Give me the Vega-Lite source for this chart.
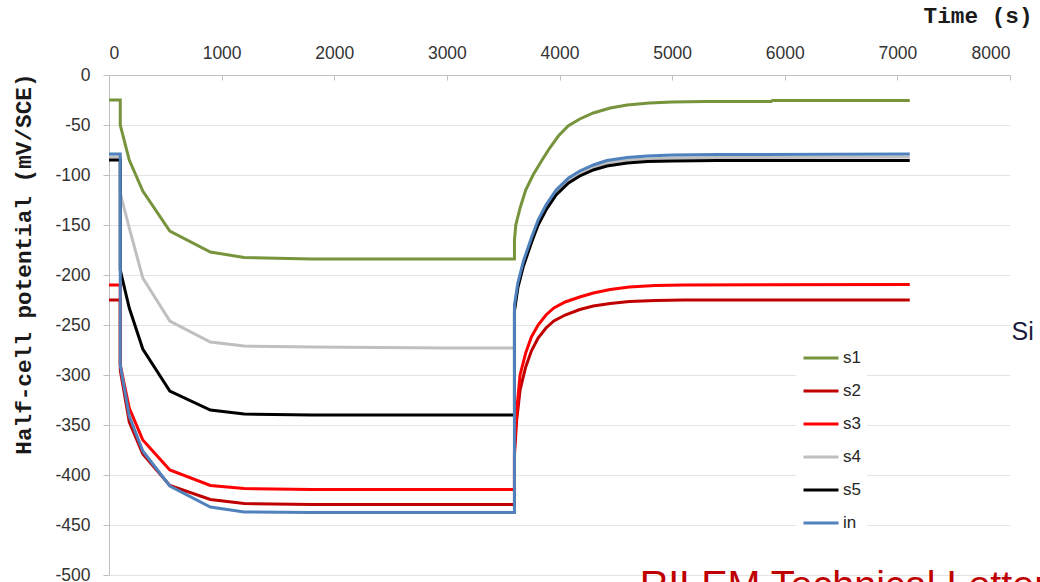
{
  "$schema": "https://vega.github.io/schema/vega-lite/v6.json",
  "width": 901,
  "height": 500,
  "autosize": {"type": "none"},
  "padding": {"left": 109, "top": 75, "right": 30, "bottom": 7},
  "background": "white",
  "config": {
    "view": {"stroke": null},
    "axis": {
      "labelFont": "Liberation Sans",
      "labelFontSize": 17.5,
      "labelColor": "#333333",
      "domainColor": "#BFBFBF",
      "tickColor": "#BFBFBF",
      "titleFont": "Liberation Mono",
      "titleFontWeight": "bold",
      "titleFontSize": 22.7,
      "titleColor": "#1a1a1a"
    }
  },
  "layer": [
    {
      "data": {
        "values": [
          {"s": "s1", "t": 0, "v": -25}, {"s": "s1", "t": 100, "v": -25}, {"s": "s1", "t": 100, "v": -50},
          {"s": "s1", "t": 180, "v": -85}, {"s": "s1", "t": 300, "v": -116}, {"s": "s1", "t": 540, "v": -156},
          {"s": "s1", "t": 900, "v": -177}, {"s": "s1", "t": 1200, "v": -182.5}, {"s": "s1", "t": 1800, "v": -184},
          {"s": "s1", "t": 3600, "v": -184}, {"s": "s1", "t": 3600, "v": -165}, {"s": "s1", "t": 3612, "v": -150},
          {"s": "s1", "t": 3650, "v": -133}, {"s": "s1", "t": 3700, "v": -115}, {"s": "s1", "t": 3765, "v": -100},
          {"s": "s1", "t": 3840, "v": -86}, {"s": "s1", "t": 3913, "v": -73}, {"s": "s1", "t": 3990, "v": -61},
          {"s": "s1", "t": 4076, "v": -51}, {"s": "s1", "t": 4180, "v": -44}, {"s": "s1", "t": 4300, "v": -38},
          {"s": "s1", "t": 4450, "v": -33}, {"s": "s1", "t": 4600, "v": -30}, {"s": "s1", "t": 4800, "v": -28},
          {"s": "s1", "t": 5000, "v": -27}, {"s": "s1", "t": 5300, "v": -26.5}, {"s": "s1", "t": 5880, "v": -26.5},
          {"s": "s1", "t": 5890, "v": -25.5}, {"s": "s1", "t": 7110, "v": -25.5},

          {"s": "s2", "t": 0, "v": -225}, {"s": "s2", "t": 100, "v": -225}, {"s": "s2", "t": 100, "v": -295},
          {"s": "s2", "t": 180, "v": -347}, {"s": "s2", "t": 300, "v": -379}, {"s": "s2", "t": 540, "v": -410.5},
          {"s": "s2", "t": 900, "v": -424.5}, {"s": "s2", "t": 1200, "v": -428.5}, {"s": "s2", "t": 1800, "v": -429.5},
          {"s": "s2", "t": 3600, "v": -429.5}, {"s": "s2", "t": 3600, "v": -380}, {"s": "s2", "t": 3620, "v": -345},
          {"s": "s2", "t": 3650, "v": -315}, {"s": "s2", "t": 3700, "v": -292}, {"s": "s2", "t": 3750, "v": -276},
          {"s": "s2", "t": 3810, "v": -263}, {"s": "s2", "t": 3880, "v": -253}, {"s": "s2", "t": 3950, "v": -246},
          {"s": "s2", "t": 4050, "v": -240}, {"s": "s2", "t": 4180, "v": -234.5}, {"s": "s2", "t": 4300, "v": -231},
          {"s": "s2", "t": 4450, "v": -228.5}, {"s": "s2", "t": 4620, "v": -226.5}, {"s": "s2", "t": 4850, "v": -225.5},
          {"s": "s2", "t": 5100, "v": -225}, {"s": "s2", "t": 7110, "v": -225},

          {"s": "s3", "t": 0, "v": -210}, {"s": "s3", "t": 100, "v": -210}, {"s": "s3", "t": 100, "v": -290},
          {"s": "s3", "t": 180, "v": -333}, {"s": "s3", "t": 300, "v": -365}, {"s": "s3", "t": 540, "v": -395},
          {"s": "s3", "t": 900, "v": -410.5}, {"s": "s3", "t": 1200, "v": -413.5}, {"s": "s3", "t": 1800, "v": -414.5},
          {"s": "s3", "t": 3600, "v": -414.5}, {"s": "s3", "t": 3600, "v": -375}, {"s": "s3", "t": 3620, "v": -335},
          {"s": "s3", "t": 3650, "v": -300}, {"s": "s3", "t": 3700, "v": -278}, {"s": "s3", "t": 3750, "v": -262},
          {"s": "s3", "t": 3810, "v": -250}, {"s": "s3", "t": 3880, "v": -240}, {"s": "s3", "t": 3950, "v": -233},
          {"s": "s3", "t": 4050, "v": -227}, {"s": "s3", "t": 4180, "v": -222}, {"s": "s3", "t": 4300, "v": -218},
          {"s": "s3", "t": 4450, "v": -214.5}, {"s": "s3", "t": 4620, "v": -212}, {"s": "s3", "t": 4850, "v": -210.5},
          {"s": "s3", "t": 5100, "v": -210}, {"s": "s3", "t": 7110, "v": -209.5},

          {"s": "s4", "t": 0, "v": -82}, {"s": "s4", "t": 100, "v": -82}, {"s": "s4", "t": 100, "v": -118},
          {"s": "s4", "t": 180, "v": -153}, {"s": "s4", "t": 300, "v": -203}, {"s": "s4", "t": 540, "v": -246},
          {"s": "s4", "t": 900, "v": -267}, {"s": "s4", "t": 1200, "v": -271}, {"s": "s4", "t": 1800, "v": -272},
          {"s": "s4", "t": 3000, "v": -273}, {"s": "s4", "t": 3600, "v": -273}, {"s": "s4", "t": 3600, "v": -233},
          {"s": "s4", "t": 3630, "v": -210}, {"s": "s4", "t": 3680, "v": -188}, {"s": "s4", "t": 3750, "v": -165},
          {"s": "s4", "t": 3810, "v": -147}, {"s": "s4", "t": 3880, "v": -132}, {"s": "s4", "t": 3970, "v": -117},
          {"s": "s4", "t": 4080, "v": -105}, {"s": "s4", "t": 4180, "v": -98}, {"s": "s4", "t": 4300, "v": -92},
          {"s": "s4", "t": 4420, "v": -88}, {"s": "s4", "t": 4600, "v": -85}, {"s": "s4", "t": 4780, "v": -84},
          {"s": "s4", "t": 5000, "v": -83}, {"s": "s4", "t": 5400, "v": -82.5}, {"s": "s4", "t": 7110, "v": -82},

          {"s": "s5", "t": 0, "v": -85}, {"s": "s5", "t": 100, "v": -85}, {"s": "s5", "t": 100, "v": -195},
          {"s": "s5", "t": 180, "v": -233}, {"s": "s5", "t": 300, "v": -274}, {"s": "s5", "t": 540, "v": -316},
          {"s": "s5", "t": 900, "v": -335}, {"s": "s5", "t": 1200, "v": -339}, {"s": "s5", "t": 1800, "v": -340},
          {"s": "s5", "t": 3600, "v": -340}, {"s": "s5", "t": 3600, "v": -236}, {"s": "s5", "t": 3630, "v": -213},
          {"s": "s5", "t": 3680, "v": -191}, {"s": "s5", "t": 3750, "v": -168}, {"s": "s5", "t": 3810, "v": -150},
          {"s": "s5", "t": 3880, "v": -135}, {"s": "s5", "t": 3970, "v": -120}, {"s": "s5", "t": 4080, "v": -108},
          {"s": "s5", "t": 4180, "v": -101}, {"s": "s5", "t": 4300, "v": -95}, {"s": "s5", "t": 4420, "v": -91},
          {"s": "s5", "t": 4600, "v": -88}, {"s": "s5", "t": 4780, "v": -86.5}, {"s": "s5", "t": 5000, "v": -86},
          {"s": "s5", "t": 5400, "v": -85.5}, {"s": "s5", "t": 7110, "v": -85.5},

          {"s": "in", "t": 0, "v": -79}, {"s": "in", "t": 100, "v": -79}, {"s": "in", "t": 100, "v": -290},
          {"s": "in", "t": 180, "v": -341}, {"s": "in", "t": 300, "v": -376}, {"s": "in", "t": 540, "v": -411},
          {"s": "in", "t": 900, "v": -432}, {"s": "in", "t": 1200, "v": -437}, {"s": "in", "t": 1800, "v": -437.5},
          {"s": "in", "t": 3600, "v": -437.5}, {"s": "in", "t": 3600, "v": -230}, {"s": "in", "t": 3630, "v": -208},
          {"s": "in", "t": 3680, "v": -186}, {"s": "in", "t": 3750, "v": -163}, {"s": "in", "t": 3810, "v": -145},
          {"s": "in", "t": 3880, "v": -130}, {"s": "in", "t": 3970, "v": -115}, {"s": "in", "t": 4080, "v": -103},
          {"s": "in", "t": 4180, "v": -96}, {"s": "in", "t": 4300, "v": -90}, {"s": "in", "t": 4420, "v": -85.5},
          {"s": "in", "t": 4600, "v": -82.5}, {"s": "in", "t": 4780, "v": -81}, {"s": "in", "t": 5000, "v": -80},
          {"s": "in", "t": 5400, "v": -79.5}, {"s": "in", "t": 7110, "v": -79}
        ]
      },
      "mark": {"type": "line", "strokeWidth": 3, "interpolate": "linear"},
      "encoding": {
        "x": {
          "field": "t",
          "type": "quantitative",
          "scale": {"domain": [0, 8000], "nice": false, "zero": false},
          "axis": {
            "orient": "top",
            "values": [0, 1000, 2000, 3000, 4000, 5000, 6000, 7000, 8000],
            "labelExpr": "'' + datum.value",
            "grid": false,
            "tickSize": -5,
            "labelPadding": 18,
            "title": "Time (s)",
            "titleAlign": "right",
            "titleBaseline": "alphabetic",
            "titleX": 923,
            "titleY": -53
          }
        },
        "y": {
          "field": "v",
          "type": "quantitative",
          "scale": {"domain": [-500, 0], "nice": false, "zero": false},
          "axis": {
            "values": [-500, -450, -400, -350, -300, -250, -200, -150, -100, -50, 0],
            "labelExpr": "'' + datum.value",
            "grid": true,
            "gridColor": "#E4E4E4",
            "gridWidth": 1,
            "tickSize": 6,
            "labelPadding": 13,
            "title": "Half-cell potential (mV/SCE)",
            "titleAngle": -90,
            "titleAlign": "right",
            "titleBaseline": "bottom",
            "titleX": -74,
            "titleY": -2
          }
        },
        "color": {
          "field": "s",
          "type": "nominal",
          "scale": {
            "domain": ["s1", "s2", "s3", "s4", "s5", "in"],
            "range": ["#77933C", "#C00000", "#FF0000", "#BFBFBF", "#000000", "#4F81BD"]
          },
          "legend": {
            "orient": "none",
            "legendX": 687,
            "legendY": 258,
            "title": null,
            "symbolType": "stroke",
            "symbolSize": 1225,
            "symbolStrokeWidth": 3,
            "labelFont": "Liberation Sans",
            "labelFontSize": 17,
            "labelColor": "#262626",
            "labelOffset": 3,
            "fillColor": "white",
            "padding": 6,
            "rowPadding": 6
          }
        }
      }
    },
    {
      "data": {"values": [{"t": 8013, "v": -264.5, "label": "Si"}]},
      "mark": {"type": "text", "align": "left", "baseline": "alphabetic", "font": "Liberation Sans", "fontSize": 25, "color": "#1b1b3d"},
      "encoding": {
        "x": {"field": "t", "type": "quantitative"},
        "y": {"field": "v", "type": "quantitative"},
        "text": {"field": "label"}
      }
    },
    {
      "data": {"values": [{"t": 4713, "v": -523, "label": "RILEM Technical Letters"}]},
      "mark": {"type": "text", "align": "left", "baseline": "alphabetic", "font": "Liberation Sans", "fontSize": 39.5, "color": "#C00000"},
      "encoding": {
        "x": {"field": "t", "type": "quantitative"},
        "y": {"field": "v", "type": "quantitative"},
        "text": {"field": "label"}
      }
    }
  ]
}
